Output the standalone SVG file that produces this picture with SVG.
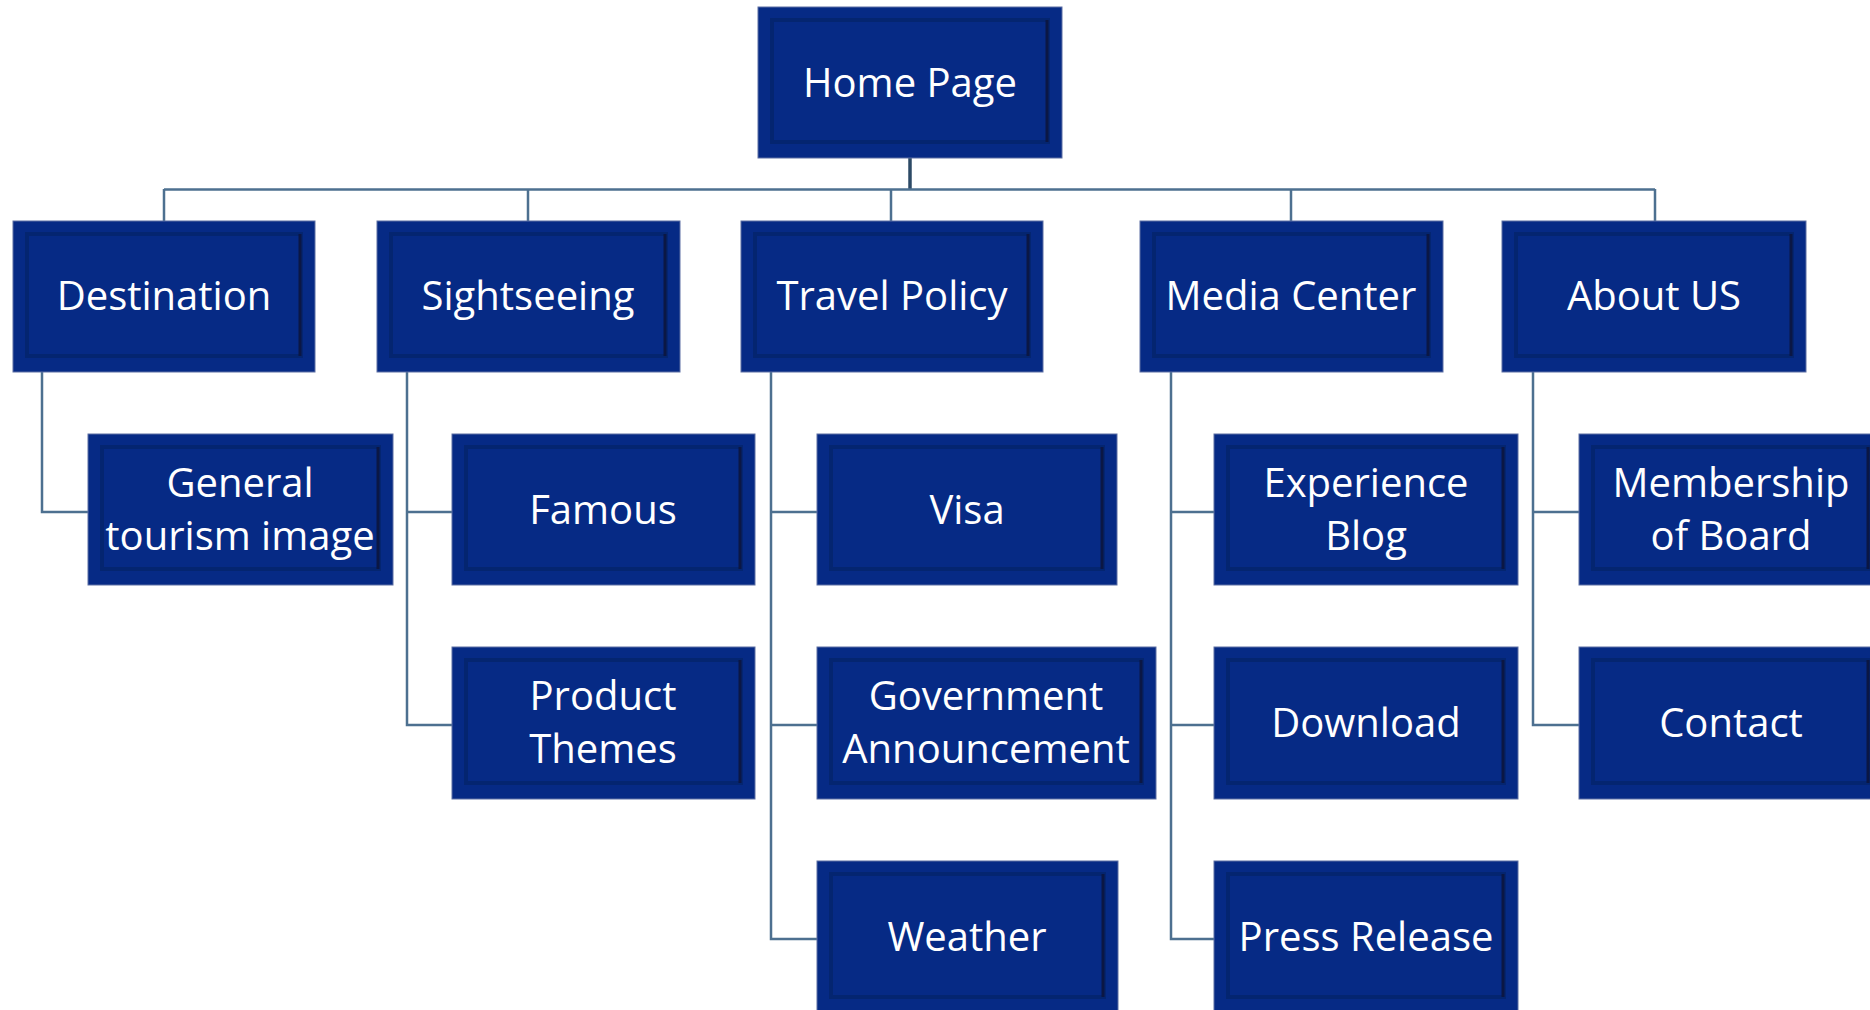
<svg xmlns="http://www.w3.org/2000/svg" width="1870" height="1010" viewBox="0 0 1870 1010">
<style>
.box{fill:#062a85;stroke:#5c6fa3;stroke-width:1}
.frame{fill:none;stroke:#03205f;stroke-width:4;stroke-opacity:0.55}
.edge{stroke:#0b1744;stroke-width:3}
.lbl{font-family:"Open Sans","Noto Sans",sans-serif;font-size:40px;fill:#ffffff;text-anchor:middle}
.conn{fill:none;stroke:#4d7090;stroke-width:2.5}
.trunk{fill:none;stroke:#2c4a66;stroke-width:3.5}
</style>
<rect width="1870" height="1010" fill="#ffffff"/>
<g id="connectors">
<path class="trunk" d="M910,158 V190"/>
<path class="conn" d="M164,189.5 H1655 M164,189 V221 M528,189 V221 M891,189 V221 M1291,189 V221 M1655,189 V221"/>
<path class="conn" d="M42,372 V512 H88"/>
<path class="conn" d="M407,372 V725 H452 M407,512 H452"/>
<path class="conn" d="M771,372 V939 H817 M771,512 H817 M771,725 H817"/>
<path class="conn" d="M1171,372 V939 H1214 M1171,512 H1214 M1171,725 H1214"/>
<path class="conn" d="M1533,372 V725 H1579 M1533,512 H1579"/>
</g>
<g id="home">
<rect class="box" x="758" y="7" width="304" height="151"/>
<rect class="frame" x="772" y="20" width="276" height="122"/>
<line class="edge" x1="1047" y1="20" x2="1047" y2="142"/>
<text class="lbl" x="910" y="97">Home Page</text>
</g>
<g id="destination">
<rect class="box" x="13" y="221" width="302" height="151"/>
<rect class="frame" x="27" y="234" width="274" height="122"/>
<line class="edge" x1="300" y1="234" x2="300" y2="356"/>
<text class="lbl" x="164" y="310">Destination</text>
</g>
<g id="sightseeing">
<rect class="box" x="377" y="221" width="303" height="151"/>
<rect class="frame" x="391" y="234" width="275" height="122"/>
<line class="edge" x1="665" y1="234" x2="665" y2="356"/>
<text class="lbl" x="528" y="310">Sightseeing</text>
</g>
<g id="travel-policy">
<rect class="box" x="741" y="221" width="302" height="151"/>
<rect class="frame" x="755" y="234" width="274" height="122"/>
<line class="edge" x1="1028" y1="234" x2="1028" y2="356"/>
<text class="lbl" x="892" y="310">Travel Policy</text>
</g>
<g id="media-center">
<rect class="box" x="1140" y="221" width="303" height="151"/>
<rect class="frame" x="1154" y="234" width="275" height="122"/>
<line class="edge" x1="1428" y1="234" x2="1428" y2="356"/>
<text class="lbl" x="1291" y="310">Media Center</text>
</g>
<g id="about-us">
<rect class="box" x="1502" y="221" width="304" height="151"/>
<rect class="frame" x="1516" y="234" width="276" height="122"/>
<line class="edge" x1="1791" y1="234" x2="1791" y2="356"/>
<text class="lbl" x="1654" y="310">About US</text>
</g>
<g id="general-tourism-image">
<rect class="box" x="88" y="434" width="305" height="151"/>
<rect class="frame" x="102" y="447" width="277" height="122"/>
<line class="edge" x1="378" y1="447" x2="378" y2="569"/>
<text class="lbl" x="240" y="497">General</text>
<text class="lbl" x="240" y="550">tourism image</text>
</g>
<g id="famous">
<rect class="box" x="452" y="434" width="303" height="151"/>
<rect class="frame" x="466" y="447" width="275" height="122"/>
<line class="edge" x1="740" y1="447" x2="740" y2="569"/>
<text class="lbl" x="603" y="524">Famous</text>
</g>
<g id="product-themes">
<rect class="box" x="452" y="647" width="303" height="152"/>
<rect class="frame" x="466" y="660" width="275" height="123"/>
<line class="edge" x1="740" y1="660" x2="740" y2="783"/>
<text class="lbl" x="603" y="710">Product</text>
<text class="lbl" x="603" y="763">Themes</text>
</g>
<g id="visa">
<rect class="box" x="817" y="434" width="300" height="151"/>
<rect class="frame" x="831" y="447" width="272" height="122"/>
<line class="edge" x1="1102" y1="447" x2="1102" y2="569"/>
<text class="lbl" x="967" y="524">Visa</text>
</g>
<g id="government-announcement">
<rect class="box" x="817" y="647" width="339" height="152"/>
<rect class="frame" x="831" y="660" width="311" height="123"/>
<line class="edge" x1="1141" y1="660" x2="1141" y2="783"/>
<text class="lbl" x="986" y="710">Government</text>
<text class="lbl" x="986" y="763">Announcement</text>
</g>
<g id="weather">
<rect class="box" x="817" y="861" width="301" height="152"/>
<rect class="frame" x="831" y="874" width="273" height="123"/>
<line class="edge" x1="1103" y1="874" x2="1103" y2="997"/>
<text class="lbl" x="967" y="951">Weather</text>
</g>
<g id="experience-blog">
<rect class="box" x="1214" y="434" width="304" height="151"/>
<rect class="frame" x="1228" y="447" width="276" height="122"/>
<line class="edge" x1="1503" y1="447" x2="1503" y2="569"/>
<text class="lbl" x="1366" y="497">Experience</text>
<text class="lbl" x="1366" y="550">Blog</text>
</g>
<g id="download">
<rect class="box" x="1214" y="647" width="304" height="152"/>
<rect class="frame" x="1228" y="660" width="276" height="123"/>
<line class="edge" x1="1503" y1="660" x2="1503" y2="783"/>
<text class="lbl" x="1366" y="737">Download</text>
</g>
<g id="press-release">
<rect class="box" x="1214" y="861" width="304" height="152"/>
<rect class="frame" x="1228" y="874" width="276" height="123"/>
<line class="edge" x1="1503" y1="874" x2="1503" y2="997"/>
<text class="lbl" x="1366" y="951">Press Release</text>
</g>
<g id="membership-of-board">
<rect class="box" x="1579" y="434" width="304" height="151"/>
<rect class="frame" x="1593" y="447" width="276" height="122"/>
<line class="edge" x1="1868" y1="447" x2="1868" y2="569"/>
<text class="lbl" x="1731" y="497">Membership</text>
<text class="lbl" x="1731" y="550">of Board</text>
</g>
<g id="contact">
<rect class="box" x="1579" y="647" width="304" height="152"/>
<rect class="frame" x="1593" y="660" width="276" height="123"/>
<line class="edge" x1="1868" y1="660" x2="1868" y2="783"/>
<text class="lbl" x="1731" y="737">Contact</text>
</g>
</svg>
